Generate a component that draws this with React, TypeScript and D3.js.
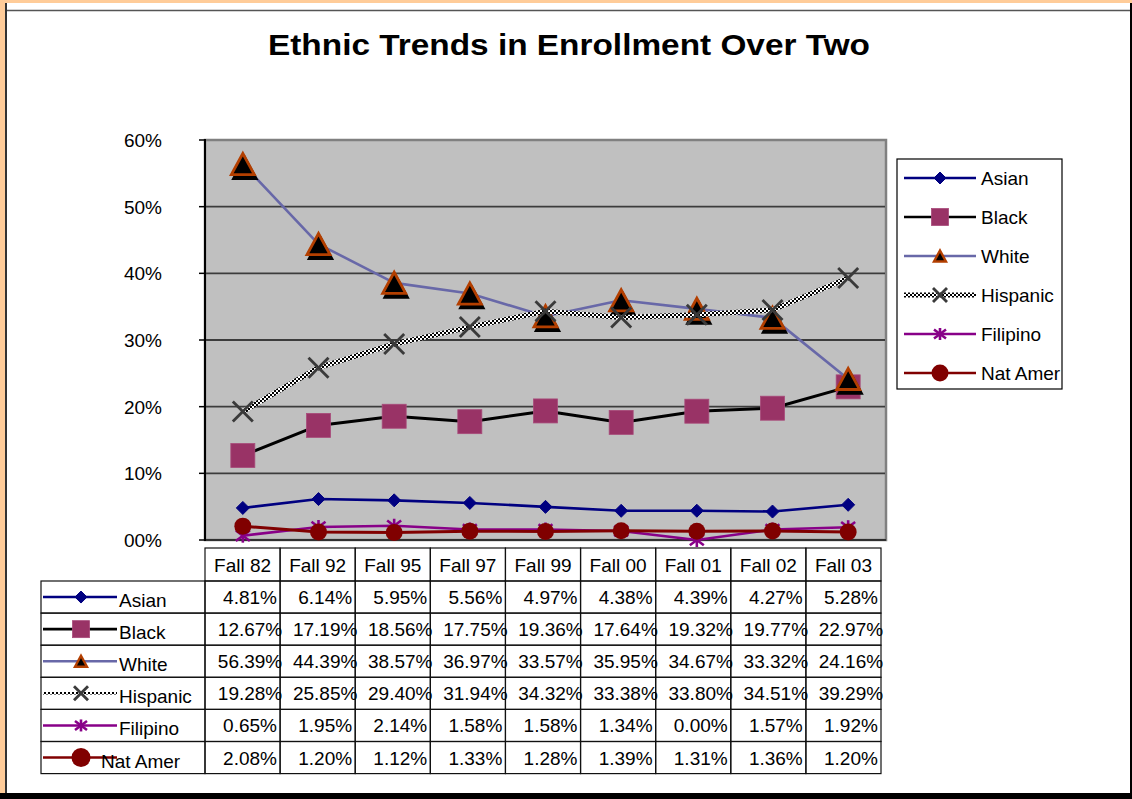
import React from "react";
import * as d3 from "d3";

// ---------- data ----------
const categories = ["Fall 82", "Fall 92", "Fall 95", "Fall 97", "Fall 99", "Fall 00", "Fall 01", "Fall 02", "Fall 03"];
const seriesNames = ["Asian", "Black", "White", "Hispanic", "Filipino", "Nat Amer"];
const asianValues = [4.81, 6.14, 5.95, 5.56, 4.97, 4.38, 4.39, 4.27, 5.28];
const blackValues = [12.67, 17.19, 18.56, 17.75, 19.36, 17.64, 19.32, 19.77, 22.97];
const whiteValues = [56.39, 44.39, 38.57, 36.97, 33.57, 35.95, 34.67, 33.32, 24.16];
const hispanicValues = [19.28, 25.85, 29.4, 31.94, 34.32, 33.38, 33.8, 34.51, 39.29];
const filipinoValues = [0.65, 1.95, 2.14, 1.58, 1.58, 1.34, 0.0, 1.57, 1.92];
const natAmerValues = [2.08, 1.2, 1.12, 1.33, 1.28, 1.39, 1.31, 1.36, 1.2];
const seriesValues = [asianValues, blackValues, whiteValues, hispanicValues, filipinoValues, natAmerValues];
const yTicks = [0, 10, 20, 30, 40, 50, 60];
const yTickLabels = ["00%", "10%", "20%", "30%", "40%", "50%", "60%"];
const title = "Ethnic Trends in Enrollment Over Two";

// ---------- styles ----------
type Kind = "diamond" | "square" | "triangle" | "x" | "star" | "circle";
interface Style { stroke: string; width: number; kind: Kind; color: string; plotSize: number; keySize: number; }
const styles: Style[] = [
  { stroke: "#000080", width: 2.6, kind: "diamond", color: "#000080", plotSize: 13, keySize: 12 },
  { stroke: "#000000", width: 3, kind: "square", color: "#993366", plotSize: 24, keySize: 17 },
  { stroke: "#6868A8", width: 2.6, kind: "triangle", color: "#B33F00", plotSize: 23, keySize: 12 },
  { stroke: "url(#checker)", width: 5, kind: "x", color: "#3a3a3a", plotSize: 20, keySize: 14 },
  { stroke: "#880088", width: 2.6, kind: "star", color: "#880088", plotSize: 14, keySize: 12 },
  { stroke: "#800000", width: 3, kind: "circle", color: "#800000", plotSize: 17, keySize: 17 },
];

const FONT = "'Liberation Sans', Arial, Helvetica, sans-serif";
const W = 1132;
const H = 799;
const plot = { left: 205, right: 886, top: 140, bottom: 540 };
const table = { left: 41, right: 881, headerTop: 548, bodyTop: 581, rowH: 32.1, keyX0: 43, keyX1: 117, keyMarker: 81, keyText: 119 };
const legend = { x: 897, y: 159, w: 165, h: 230, x0: 904, x1: 976, mx: 940, tx: 981, firstY: 178, step: 39 };

const x = d3.scaleBand<string>().domain(categories).range([plot.left, plot.right]);
const y = d3.scaleLinear().domain([0, 60]).range([plot.bottom, plot.top]);
const tx = d3.scaleBand<string>().domain(categories).range([plot.left, table.right]);
const cx = (c: string) => (x(c) as number) + x.bandwidth() / 2;

function Marker({ kind, px, py, s, color, shadow }: { kind: Kind; px: number; py: number; s: number; color: string; shadow?: boolean }) {
  const h = s / 2;
  switch (kind) {
    case "diamond":
      return <path d={`M${px},${py - h}L${px + h},${py}L${px},${py + h}L${px - h},${py}Z`} fill={color} stroke={color} strokeWidth={1} />;
    case "square":
      return <rect x={px - h} y={py - h} width={s} height={s} fill={color} stroke="#a84a7a" strokeWidth={0.8} />;
    case "triangle": {
      const hh = s * 0.46;
      const tri = (ox: number, oy: number) => `M${px + ox},${py - hh + oy}L${px + h + ox},${py + hh + oy}L${px - h + ox},${py + hh + oy}Z`;
      return (
        <g>
          {shadow && <path d={tri(2, 4)} fill="#000" stroke="#000" strokeWidth={2.5} />}
          <path d={tri(0, 0)} fill="#000" stroke={color} strokeWidth={s > 15 ? 2.8 : 2.4} strokeLinejoin="miter" />
        </g>
      );
    }
    case "x":
      return (
        <g stroke={color} strokeWidth={2.8}>
          <line x1={px - h} y1={py - h} x2={px + h} y2={py + h} />
          <line x1={px - h} y1={py + h} x2={px + h} y2={py - h} />
        </g>
      );
    case "star":
      return (
        <g stroke={color} strokeWidth={2.6}>
          <line x1={px - h} y1={py - h * 0.75} x2={px + h} y2={py + h * 0.75} />
          <line x1={px - h} y1={py + h * 0.75} x2={px + h} y2={py - h * 0.75} />
          <line x1={px} y1={py - h} x2={px} y2={py + h} />
        </g>
      );
    case "circle":
      return <circle cx={px} cy={py} r={h} fill={color} />;
  }
  return null;
}

export default function App() {
  const line = d3
    .line<number>()
    .x((_, i) => cx(categories[i]))
    .y((d) => y(d));

  return (
    <div style={{ position: "absolute", left: 0, top: 0 }}>
      <svg width={W} height={H} style={{ display: "block", fontFamily: FONT }}>
        <defs>
          <pattern id="checker" patternUnits="userSpaceOnUse" width={4} height={4}>
            <rect width={4} height={4} fill="#fff" />
            <rect x={0} y={0} width={2} height={2} fill="#000" />
            <rect x={2} y={2} width={2} height={2} fill="#000" />
          </pattern>
          <clipPath id="legendClip">
            <rect x={legend.x} y={legend.y} width={legend.w} height={legend.h} />
          </clipPath>
        </defs>

        {/* outer frame */}
        <rect x={0} y={0} width={W} height={H} fill="#FFCC99" />
        <rect x={6} y={3} width={W - 6} height={790} fill="#fff" />
        <line x1={6} y1={10.5} x2={W} y2={10.5} stroke="#555" strokeWidth={1.6} />
        <line x1={6} y1={3} x2={6} y2={H} stroke="#333" strokeWidth={2} />
        <line x1={1131} y1={3} x2={1131} y2={H} stroke="#000" strokeWidth={2} />
        <rect x={0} y={793} width={W} height={6} fill="#000" />

        {/* title */}
        <text x={268} y={55} fontSize={30} fontWeight="bold" textLength={602} lengthAdjust="spacingAndGlyphs" fill="#000">
          {title}
        </text>

        {/* plot area */}
        <rect x={plot.left} y={plot.top} width={plot.right - plot.left} height={plot.bottom - plot.top} fill="#C0C0C0" stroke="#808080" strokeWidth={2.5} />
        {yTicks.filter((t) => t > 0 && t < 60).map((t) => (
          <line key={t} x1={plot.left} x2={plot.right - 1} y1={y(t)} y2={y(t)} stroke="#3c3c3c" strokeWidth={1.8} />
        ))}
        <line x1={plot.left} x2={plot.right} y1={plot.bottom} y2={plot.bottom} stroke="#303030" strokeWidth={2} />
        <line x1={plot.left} x2={plot.left} y1={plot.top - 1} y2={plot.bottom + 1} stroke="#000" strokeWidth={2} />
        {yTicks.map((t, i) => (
          <g key={t}>
            <line x1={plot.left - 6} x2={plot.left} y1={y(t)} y2={y(t)} stroke="#000" strokeWidth={1.5} />
            <text x={162} y={y(t) + 7} fontSize={19} textAnchor="end" fill="#000">
              {yTickLabels[i]}
            </text>
          </g>
        ))}

        {/* series */}
        {seriesValues.map((vals, si) => {
          const st = styles[si];
          return (
            <g key={seriesNames[si]}>
              <path d={line(vals) || ""} fill="none" stroke={st.stroke} strokeWidth={st.width} strokeLinejoin="round" />
              {vals.map((v, i) => (
                <Marker key={i} kind={st.kind} px={cx(categories[i])} py={y(v)} s={st.plotSize} color={st.color} shadow />
              ))}
            </g>
          );
        })}

        {/* legend */}
        <rect x={legend.x} y={legend.y} width={legend.w} height={legend.h} fill="#fff" stroke="#000" strokeWidth={1.2} />
        <g clipPath="url(#legendClip)">
          {seriesNames.map((name, si) => {
            const st = styles[si];
            const ly = legend.firstY + si * legend.step;
            return (
              <g key={name}>
                <line x1={legend.x0} x2={legend.x1} y1={ly} y2={ly} stroke={st.stroke} strokeWidth={si === 3 ? 5 : 2.6} />
                <Marker kind={st.kind} px={legend.mx} py={ly} s={st.keySize} color={st.color} />
                <text x={legend.tx} y={ly + 7} fontSize={19} fill="#000">
                  {name}
                </text>
              </g>
            );
          })}
        </g>

        {/* data table */}
        <g stroke="#111" strokeWidth={1.2} fill="none">
          {categories.map((c) => (
            <rect key={c} x={tx(c)} y={table.headerTop} width={tx.bandwidth()} height={table.bodyTop - table.headerTop} />
          ))}
          {seriesNames.map((name, si) => {
            const ry = table.bodyTop + si * table.rowH;
            return (
              <g key={name}>
                <rect x={table.left} y={ry} width={plot.left - table.left} height={table.rowH} />
                {categories.map((c) => (
                  <rect key={c} x={tx(c)} y={ry} width={tx.bandwidth()} height={table.rowH} />
                ))}
              </g>
            );
          })}
        </g>
        {categories.map((c) => (
          <text key={c} x={(tx(c) as number) + tx.bandwidth() / 2} y={(table.headerTop + table.bodyTop) / 2 + 7} fontSize={19} textAnchor="middle" fill="#000">
            {c}
          </text>
        ))}
        {seriesNames.map((name, si) => {
          const st = styles[si];
          const ry = table.bodyTop + si * table.rowH;
          const mid = ry + table.rowH / 2;
          return (
            <g key={name}>
              <line x1={table.keyX0} x2={table.keyX1} y1={mid} y2={mid} stroke={st.stroke} strokeWidth={si === 3 ? 2.5 : 2.6} />
              <Marker kind={st.kind} px={table.keyMarker} py={mid} s={st.keySize + (si === 5 ? 2 : 0)} color={st.color} />
              <text x={name === "Nat Amer" ? table.keyText - 18 : table.keyText} y={mid + 10} fontSize={19} fill="#000">
                {name}
              </text>
              {seriesValues[si].map((v, i) => (
                <text key={i} x={(tx(categories[i]) as number) + tx.bandwidth() / 2 + 7.5} y={mid + 7} fontSize={19} textAnchor="middle" fill="#000">
                  {v.toFixed(2) + "%"}
                </text>
              ))}
            </g>
          );
        })}
      </svg>
    </div>
  );
}
